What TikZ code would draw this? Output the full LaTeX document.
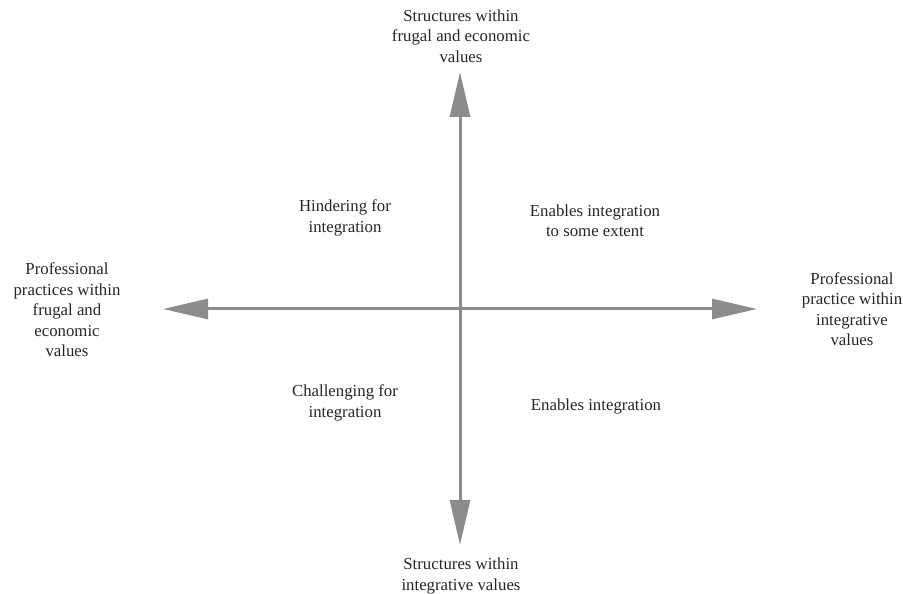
\documentclass[tikz,border=0pt]{standalone}
\usepackage{fontspec}
\setmainfont{Liberation Serif}
\usetikzlibrary{arrows.meta}
\definecolor{axisgray}{RGB}{140,140,142}
\begin{document}
\begin{tikzpicture}[x=1pt,y=1pt,
  axis/.style={draw=axisgray, line width=3pt, -{Triangle[length=45pt,width=20pt]}},
  label/.style={align=center, font=\fontsize{16.8}{20.5}\selectfont, text=black!85}]
  \useasboundingbox (0,0) rectangle (903,594);
  \coordinate (o) at (460,285);
  \coordinate (top) at (460,522);
  \coordinate (bottom) at (460,49);
  \coordinate (left) at (163,285);
  \coordinate (right) at (757,285);
  \draw[axis] (o) -- (top);
  \draw[axis] (o) -- (bottom);
  \draw[axis] (o) -- (left);
  \draw[axis] (o) -- (right);
  \node[label] (structfrugal) at (461,558) {Structures within\\frugal and economic\\values};
  \node[label] (structinteg) at (461,18) {Structures within\\integrative values};
  \node[label] (practfrugal) at (67,284) {Professional\\practices within\\frugal and\\economic\\values};
  \node[label] (practinteg) at (852,285) {Professional\\practice within\\integrative\\values};
  \node[label] (hinder) at (345,376) {Hindering for\\integration};
  \node[label] (someext) at (595,373) {Enables integration\\to some extent};
  \node[label] (challenge) at (345,191) {Challenging for\\integration};
  \node[label] (enables) at (596,188) {Enables integration};
\end{tikzpicture}
\end{document}
